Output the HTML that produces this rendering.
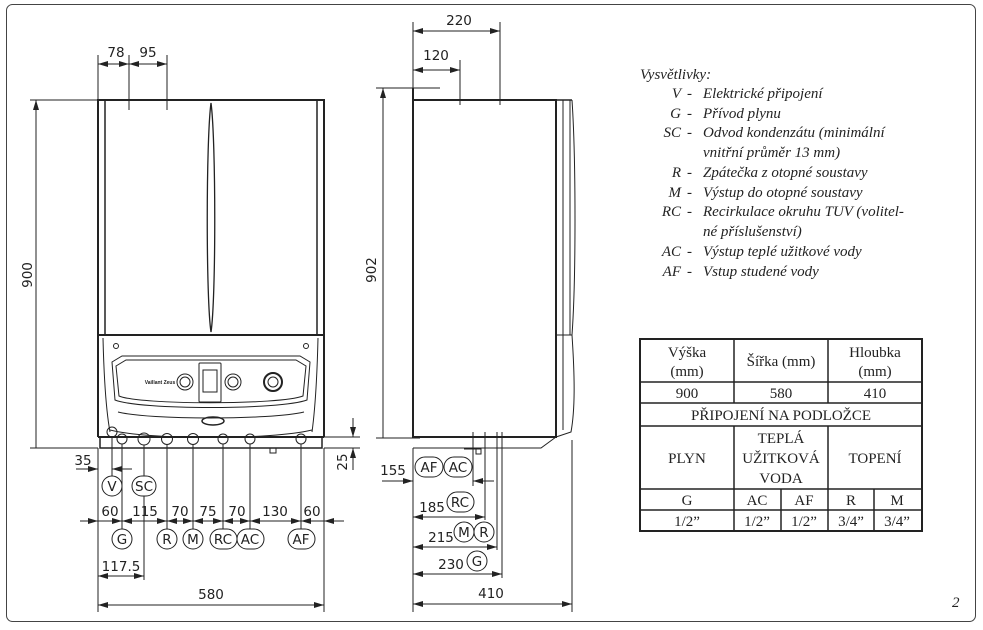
<!DOCTYPE html>
<html><head><meta charset="utf-8"><style>
html,body{margin:0;padding:0;background:#fff;}
svg{display:block}
.d{font-family:"DejaVu Sans","Liberation Sans",sans-serif;font-size:13.5px;fill:#222}
.l{font-family:"Liberation Serif",serif;font-style:italic;font-size:15px;fill:#222}
.t{font-family:"Liberation Serif",serif;font-size:15px;fill:#222}
</style></head><body>
<svg width="983" height="630" viewBox="0 0 983 630" xmlns="http://www.w3.org/2000/svg">
<defs>
<marker id="a" viewBox="0 0 10 6" refX="10" refY="3" markerWidth="10" markerHeight="6" orient="auto-start-reverse" markerUnits="userSpaceOnUse"><path d="M0,0 L10,3 L0,6z" fill="#222"/></marker>
</defs>
<rect x="6.5" y="4.5" width="969" height="617" rx="6" fill="none" stroke="#444" stroke-width="1"/>
<g stroke="#222" fill="none" stroke-width="1">
<!-- FRONT VIEW -->
<rect x="98" y="100" width="226" height="235" stroke-width="2"/>
<line x1="105" y1="100" x2="105" y2="335" stroke-width="1.5"/>
<line x1="317" y1="100" x2="317" y2="335" stroke-width="1.5"/>
<path d="M211,103 C206,140 206,300 211,332 C216,300 216,140 211,103Z" stroke-width="1.3"/>
<line x1="98" y1="335" x2="98" y2="437" stroke-width="2"/>
<line x1="324" y1="335" x2="324" y2="437" stroke-width="2"/>
<path d="M103,338 C104,380 106,410 110,432 M318,338 C317,380 315,410 312,432"/>
<path d="M112,362 L122,356 L300,356 L310,362 L307,400 C280,410 140,410 115,400 Z"/>
<path d="M116,366 L126,360 L296,360 L306,366 L303,396 C280,405 140,405 119,396 Z"/>
<path d="M118,412 C150,420 270,420 304,412"/>
<path d="M110,430 C150,440 270,440 312,430"/>
<rect x="199" y="363" width="22" height="39" rx="1"/>
<rect x="203" y="370" width="14" height="22"/>
<circle cx="185" cy="382" r="8"/><circle cx="185" cy="382" r="5"/>
<circle cx="233" cy="382" r="8"/><circle cx="233" cy="382" r="5"/>
<circle cx="273" cy="382" r="9" stroke-width="2"/><circle cx="273" cy="382" r="5"/>
<ellipse cx="213" cy="421" rx="11" ry="4" stroke-width="1.5"/>
<circle cx="116" cy="346" r="2.5"/><circle cx="306" cy="346" r="2.5"/>
<rect x="100" y="437" width="222" height="11" stroke-width="1.5"/>
<line x1="98" y1="437" x2="324" y2="437" stroke-width="2"/>
<circle cx="112" cy="432" r="5"/>
<g>
<circle cx="122" cy="439" r="5"/><circle cx="144" cy="439" r="6"/><circle cx="167" cy="439" r="5.5"/><circle cx="193" cy="439" r="5.5"/><circle cx="223" cy="439" r="5"/><circle cx="250" cy="439" r="5"/><circle cx="301" cy="439" r="5"/>
</g>
<rect x="270" y="448" width="6" height="5"/>
<!-- front dims -->
<line x1="30" y1="100" x2="98" y2="100"/><line x1="30" y1="448" x2="98" y2="448"/>
<line x1="36" y1="100" x2="36" y2="448" marker-start="url(#a)"/>
<line x1="98" y1="55" x2="98" y2="100"/><line x1="129" y1="55" x2="129" y2="110"/><line x1="167" y1="55" x2="167" y2="110"/>
<line x1="98" y1="64" x2="129" y2="64" marker-start="url(#a)" marker-end="url(#a)"/>
<line x1="129" y1="64" x2="167" y2="64" marker-start="url(#a)" marker-end="url(#a)"/>
<line x1="324" y1="437" x2="360" y2="437"/><line x1="324" y1="448" x2="360" y2="448"/>
<line x1="353" y1="418" x2="353" y2="437" marker-end="url(#a)"/>
<line x1="353" y1="470" x2="353" y2="448" marker-end="url(#a)"/>
<line x1="112" y1="437" x2="112" y2="476"/>
<line x1="76" y1="469" x2="98" y2="469" marker-end="url(#a)"/>
<line x1="132" y1="469" x2="112" y2="469" marker-end="url(#a)"/>
<line x1="98" y1="448" x2="98" y2="612"/><line x1="324" y1="448" x2="324" y2="612"/>
<line x1="122" y1="444" x2="122" y2="529"/><line x1="144" y1="445" x2="144" y2="476"/><line x1="144" y1="496" x2="144" y2="580"/>
<line x1="167" y1="444" x2="167" y2="529"/><line x1="193" y1="444" x2="193" y2="529"/><line x1="223" y1="444" x2="223" y2="529"/><line x1="250" y1="444" x2="250" y2="529"/><line x1="301" y1="444" x2="301" y2="529"/>
<line x1="80" y1="521" x2="344" y2="521"/>
<g marker-end="url(#a)">
<line x1="88" y1="521" x2="98" y2="521"/><line x1="110" y1="521" x2="122" y2="521"/>
<line x1="135" y1="521" x2="122" y2="521"/><line x1="155" y1="521" x2="167" y2="521"/>
<line x1="180" y1="521" x2="167" y2="521"/><line x1="181" y1="521" x2="193" y2="521"/>
<line x1="205" y1="521" x2="193" y2="521"/><line x1="211" y1="521" x2="223" y2="521"/>
<line x1="235" y1="521" x2="223" y2="521"/><line x1="238" y1="521" x2="250" y2="521"/>
<line x1="262" y1="521" x2="250" y2="521"/><line x1="289" y1="521" x2="301" y2="521"/>
<line x1="313" y1="521" x2="301" y2="521"/><line x1="336" y1="521" x2="324" y2="521"/>
</g>
<line x1="98" y1="576" x2="144" y2="576" marker-start="url(#a)" marker-end="url(#a)"/>
<line x1="98" y1="605" x2="324" y2="605" marker-start="url(#a)" marker-end="url(#a)"/>
<!-- label circles front -->
<circle cx="112" cy="486" r="10"/><rect x="132" y="476" width="24" height="20" rx="10"/>
<circle cx="122" cy="539" r="10"/><circle cx="167" cy="539" r="10"/><circle cx="193" cy="539" r="10"/>
<rect x="210" y="529" width="27" height="20" rx="10"/><rect x="237" y="529" width="27" height="20" rx="10"/><rect x="288" y="529" width="27" height="20" rx="10"/>
<!-- SIDE VIEW -->
<rect x="413" y="100" width="143" height="337" stroke-width="2"/>
<line x1="556" y1="100" x2="572" y2="100" stroke-width="1.5"/>
<line x1="563" y1="100" x2="563" y2="335"/><line x1="570" y1="100" x2="570" y2="335"/>
<path d="M572,100 C576,160 576,280 572,335"/>
<path d="M556,335 L572,335 M572,335 C575,380 575,410 571,432 L556,437"/>
<path d="M563,335 L563,430 M556,437 L541,448 L413,448"/>
<line x1="413" y1="448" x2="413" y2="612"/>
<line x1="413" y1="88" x2="413" y2="100" stroke-width="2"/>
<line x1="376" y1="88" x2="440" y2="88"/>
<line x1="383" y1="88" x2="383" y2="438" marker-start="url(#a)"/>
<line x1="376" y1="438" x2="420" y2="438"/>
<line x1="413" y1="22" x2="413" y2="88"/><line x1="500" y1="22" x2="500" y2="105"/><line x1="460" y1="60" x2="460" y2="105"/>
<line x1="413" y1="31" x2="500" y2="31" marker-start="url(#a)" marker-end="url(#a)"/>
<line x1="413" y1="70" x2="460" y2="70" marker-start="url(#a)" marker-end="url(#a)"/>
<rect x="476" y="449" width="5" height="5"/><line x1="464" y1="449" x2="481" y2="449"/>
<line x1="473" y1="432" x2="473" y2="486"/><line x1="485" y1="432" x2="485" y2="520"/><line x1="497" y1="432" x2="497" y2="550"/><line x1="502" y1="432" x2="502" y2="578"/>
<line x1="572" y1="440" x2="572" y2="612"/>
<line x1="382" y1="481" x2="413" y2="481" marker-end="url(#a)"/>
<line x1="494" y1="481" x2="473" y2="481" marker-end="url(#a)"/>
<line x1="413" y1="517" x2="485" y2="517" marker-start="url(#a)" marker-end="url(#a)"/>
<line x1="413" y1="547" x2="497" y2="547" marker-start="url(#a)" marker-end="url(#a)"/>
<line x1="413" y1="574" x2="502" y2="574" marker-start="url(#a)" marker-end="url(#a)"/>
<line x1="413" y1="604" x2="572" y2="604" marker-start="url(#a)" marker-end="url(#a)"/>
<rect x="415" y="457" width="28" height="20" rx="10"/><rect x="444" y="457" width="28" height="20" rx="10"/>
<rect x="447" y="492" width="27" height="20" rx="10"/>
<circle cx="464" cy="532" r="10"/><circle cx="484" cy="532" r="10"/>
<circle cx="477" cy="561" r="10"/>
<!-- TABLE -->
<rect x="640" y="339" width="282" height="192" stroke-width="2"/>
<g stroke-width="1.5">
<line x1="640" y1="382" x2="922" y2="382"/><line x1="640" y1="403" x2="922" y2="403"/><line x1="640" y1="426" x2="922" y2="426"/><line x1="640" y1="489" x2="922" y2="489"/><line x1="640" y1="510" x2="922" y2="510"/>
<line x1="734" y1="339" x2="734" y2="403"/><line x1="828" y1="339" x2="828" y2="403"/>
<line x1="734" y1="426" x2="734" y2="531"/><line x1="828" y1="426" x2="828" y2="531"/>
<line x1="781" y1="489" x2="781" y2="531"/><line x1="874" y1="489" x2="874" y2="531"/>
</g>
</g>
<!-- texts -->
<g class="d" text-anchor="middle">
<text x="116" y="57">78</text><text x="148" y="57">95</text>
<text x="37" y="275" transform="rotate(-90 37 275)" dy="-5">900</text>
<text x="83" y="465">35</text>
<text x="347" y="462" transform="rotate(-90 347 462)">25</text>
<text x="112" y="491">V</text><text x="144" y="491">SC</text>
<text x="110" y="516">60</text><text x="145" y="516">115</text><text x="180" y="516">70</text><text x="208" y="516">75</text><text x="237" y="516">70</text><text x="275" y="516">130</text><text x="312" y="516">60</text>
<text x="122" y="544">G</text><text x="167" y="544">R</text><text x="193" y="544">M</text><text x="223" y="544">RC</text><text x="250" y="544">AC</text><text x="301" y="544">AF</text>
<text x="121" y="571">117.5</text>
<text x="211" y="599">580</text>
<text x="459" y="25">220</text><text x="436" y="60">120</text>
<text x="376" y="270" transform="rotate(-90 376 270)">902</text>
<text x="393" y="475">155</text><text x="429" y="472">AF</text><text x="458" y="472">AC</text>
<text x="432" y="512">185</text><text x="460" y="507">RC</text>
<text x="441" y="542">215</text><text x="464" y="537">M</text><text x="484" y="537">R</text>
<text x="451" y="569">230</text><text x="477" y="566">G</text>
<text x="491" y="598">410</text>
</g>
<g class="l">
<text x="640" y="79">Vysvětlivky:</text>
<g text-anchor="end"><text x="681" y="98">V</text><text x="681" y="118">G</text><text x="681" y="137">SC</text><text x="681" y="177">R</text><text x="681" y="197">M</text><text x="681" y="216">RC</text><text x="681" y="256">AC</text><text x="681" y="276">AF</text></g>
<g><text x="687" y="98">-</text><text x="687" y="118">-</text><text x="687" y="137">-</text><text x="687" y="177">-</text><text x="687" y="197">-</text><text x="687" y="216">-</text><text x="687" y="256">-</text><text x="687" y="276">-</text></g>
<g><text x="703" y="98">Elektrické připojení</text><text x="703" y="118">Přívod plynu</text><text x="703" y="137">Odvod kondenzátu (minimální</text><text x="703" y="157">vnitřní průměr 13 mm)</text><text x="703" y="177">Zpátečka z otopné soustavy</text><text x="703" y="197">Výstup do otopné soustavy</text><text x="703" y="216">Recirkulace okruhu TUV (volitel-</text><text x="703" y="236">né příslušenství)</text><text x="703" y="256">Výstup teplé užitkové vody</text><text x="703" y="276">Vstup studené vody</text></g>
</g>
<g class="t" text-anchor="middle">
<text x="687" y="357">Výška</text><text x="687" y="376">(mm)</text>
<text x="781" y="366">Šířka (mm)</text>
<text x="875" y="357">Hloubka</text><text x="875" y="376">(mm)</text>
<text x="687" y="398">900</text><text x="781" y="398">580</text><text x="875" y="398">410</text>
<text x="781" y="420">PŘIPOJENÍ NA PODLOŽCE</text>
<text x="687" y="463">PLYN</text>
<text x="781" y="443">TEPLÁ</text><text x="781" y="463">UŽITKOVÁ</text><text x="781" y="483">VODA</text>
<text x="875" y="463">TOPENÍ</text>
<text x="687" y="505">G</text><text x="757" y="505">AC</text><text x="804" y="505">AF</text><text x="851" y="505">R</text><text x="897" y="505">M</text>
<text x="687" y="526">1/2”</text><text x="757" y="526">1/2”</text><text x="804" y="526">1/2”</text><text x="851" y="526">3/4”</text><text x="897" y="526">3/4”</text>
</g>
<text x="952" y="607" class="l">2</text>
<text x="160" y="384" font-family="Liberation Sans" font-size="5" font-weight="bold" fill="#222" text-anchor="middle">Vaillant Zeus</text>
</svg>
</body></html>
